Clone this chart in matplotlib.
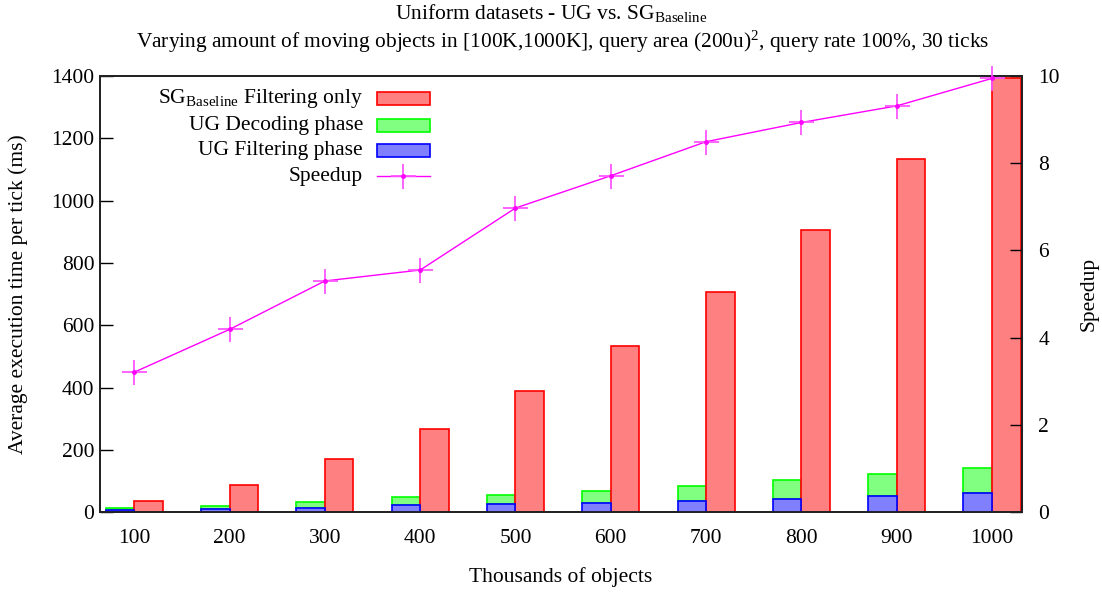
import matplotlib
matplotlib.use('Agg')
import matplotlib.pyplot as plt
from matplotlib.patches import Rectangle
from matplotlib.lines import Line2D
import numpy as np

plt.rcParams['font.family'] = ['Liberation Serif', 'DejaVu Serif']
plt.rcParams['mathtext.fontset'] = 'custom'
plt.rcParams['mathtext.rm'] = 'Liberation Serif'
plt.rcParams['mathtext.it'] = 'Liberation Serif:italic'
plt.rcParams['font.size'] = 15.5

# data
objects = ['100', '200', '300', '400', '500', '600', '700', '800', '900', '1000']
ug_filtering = [7, 11, 15, 23, 26, 30, 35, 43, 51, 61]
ug_decoding = [6, 10, 18, 26, 31, 39, 48, 60, 71, 80]
sg_filtering = [37, 89, 170, 267, 389, 534, 705, 905, 1133, 1392]
speedup = [3.21, 4.19, 5.30, 5.55, 6.97, 7.71, 8.49, 8.93, 9.31, 9.94]

red_face, red_edge = '#ff8080', '#ff0000'
green_face, green_edge = '#80ff80', '#00ff00'
blue_face, blue_edge = '#8080ff', '#0000ff'
magenta = '#ff00ff'

fig = plt.figure(figsize=(11.02, 5.92), dpi=100)
ax = fig.add_axes([0.0907, 0.1346, 0.8363, 0.7374])
ax2 = ax.twinx()

x = np.arange(len(objects))
w = 0.30
ax.bar(x - w / 2, ug_filtering, w, color=blue_face, edgecolor=blue_edge, linewidth=1.2, zorder=3)
ax.bar(x - w / 2, ug_decoding, w, bottom=ug_filtering, color=green_face, edgecolor=green_edge, linewidth=1.2, zorder=2)
ax.bar(x + w / 2, sg_filtering, w, color=red_face, edgecolor=red_edge, linewidth=1.2, zorder=2)

ax2.plot(x, speedup, color=magenta, linewidth=1.0, marker='+', markersize=18,
         markeredgewidth=1.3, markeredgecolor='#ff55ff', zorder=4, clip_on=False)
ax2.plot(x, speedup, linestyle='none', marker='o', markersize=2.5, color=magenta, zorder=5, clip_on=False)

ax.set_xlim(-0.36, 9.31)
ax.set_ylim(0, 1400)
ax2.set_ylim(0, 10)
ax.set_xticks(x)
ax.set_xticklabels(objects)
ax.set_yticks(range(0, 1401, 200))
ax2.set_yticks(range(0, 11, 2))
ax.tick_params(axis='x', length=0, pad=12)
ax.tick_params(axis='y', direction='in', length=9, width=1, pad=4)
ax2.tick_params(axis='y', direction='in', length=9, width=1, pad=12)
for a in (ax, ax2):
    for s in a.spines.values():
        s.set_linewidth(1.3)
        s.set_color('#222222')

ax.set_xlabel('Thousands of objects', labelpad=14)
ax.set_ylabel('Average execution time per tick (ms)')
ax.yaxis.set_label_coords(-0.078, 0.5)
ax2.set_ylabel('Speedup')
ax2.yaxis.set_label_coords(1.0635, 0.5)

fig.text(0.5, 0.978, r'Uniform datasets - UG vs. SG$_{\mathrm{Baseline}}$', ha='center', va='center', fontsize=15.5)
fig.text(0.511, 0.929, r'Varying amount of moving objects in [100K,1000K], query area (200u)$^{2}$, query rate 100%, 30 ticks',
         ha='center', va='center', fontsize=15.4)

# legend, gnuplot style: text right aligned, key on the right
labels = [r'SG$_{\mathrm{Baseline}}$ Filtering only', 'UG Decoding phase', 'UG Filtering phase', 'Speedup']
faces = [(red_face, red_edge), (green_face, green_edge), (blue_face, blue_edge)]
tx = (363 - 100) / 921.5
bx0 = (377 - 100) / 921.5
bx1 = (430 - 100) / 921.5
rows = [98.3, 125, 150.5, 176]
for i, lab in enumerate(labels):
    yy = (512.3 - rows[i]) / 436.6
    ax.text(tx, yy, lab, transform=ax.transAxes, ha='right', va='center', fontsize=15.5, zorder=6)
    if i < 3:
        ax.add_patch(Rectangle((bx0, yy - 6.5 / 436.6), bx1 - bx0, 13 / 436.6, transform=ax.transAxes,
                               facecolor=faces[i][0], edgecolor=faces[i][1], linewidth=1.2, zorder=6))
    else:
        ax.add_line(Line2D([bx0, bx1], [yy, yy], transform=ax.transAxes, color=magenta, linewidth=1.0, zorder=6))
        ax.add_line(Line2D([(bx0 + bx1) / 2], [yy], transform=ax.transAxes, marker='+', markersize=18,
                           markeredgewidth=1.3, markeredgecolor='#ff55ff', zorder=6))
        ax.add_line(Line2D([(bx0 + bx1) / 2], [yy], transform=ax.transAxes, marker='o', markersize=2.5,
                           color=magenta, zorder=7))

fig.savefig('out.png', dpi=100)
